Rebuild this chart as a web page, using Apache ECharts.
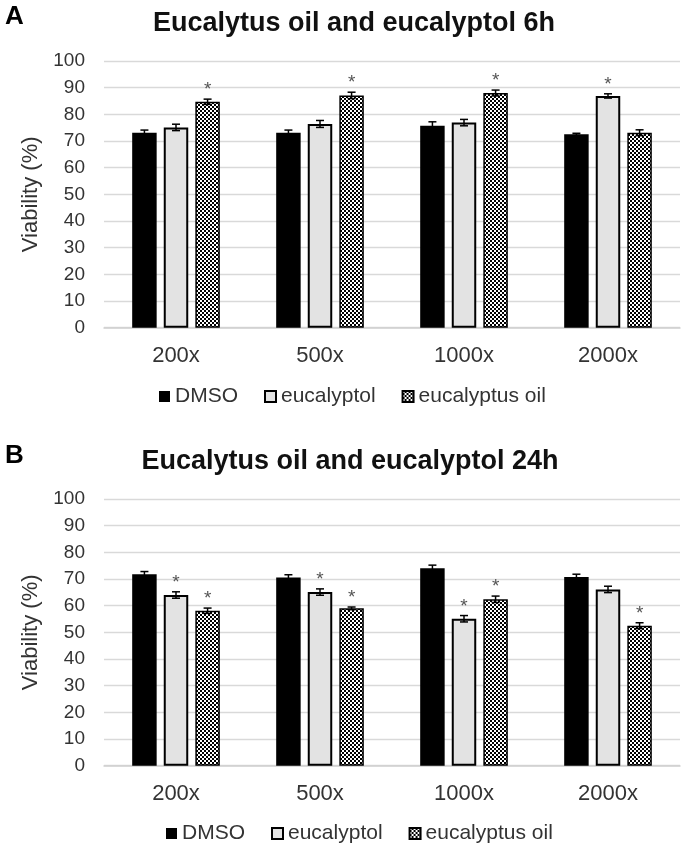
<!DOCTYPE html>
<html>
<head>
<meta charset="utf-8">
<script src="https://cdn.jsdelivr.net/npm/echarts@6/dist/echarts.min.js"></script>
<style>
html,body{margin:0;padding:0;background:#fff;}
#chart{width:685px;height:852px;}
</style>
</head>
<body>
<div id="chart"></div>
<script>
// ---- data ----
const categories = ['200x', '500x', '1000x', '2000x'];
const seriesNames = ['DMSO', 'eucalyptol', 'eucalyptus oil'];
const yTicks = [0, 10, 20, 30, 40, 50, 60, 70, 80, 90, 100];

// 6h
const dmso6 = [73.1, 73.1, 75.7, 72.5];
const dmso6Err = [1.0, 1.0, 1.5, 0.4];
const eucalyptol6 = [75.1, 76.4, 76.9, 86.9];
const eucalyptol6Err = [1.2, 1.3, 1.2, 0.8];
const oil6 = [84.7, 87.1, 88.0, 73.1];
const oil6Err = [1.0, 1.2, 1.1, 1.1];
const dmso6Sig = [false, false, false, false];
const eucalyptol6Sig = [false, false, false, true];
const oil6Sig = [true, true, true, false];

// 24h
const dmso24 = [71.8, 70.6, 74.0, 70.8];
const dmso24Err = [1.0, 1.0, 1.2, 1.0];
const eucalyptol24 = [64.0, 65.1, 55.1, 66.1];
const eucalyptol24Err = [1.2, 1.2, 1.2, 1.2];
const oil24 = [58.1, 59.0, 62.4, 52.5];
const oil24Err = [1.0, 0.5, 1.2, 1.1];
const dmso24Sig = [false, false, false, false];
const eucalyptol24Sig = [true, true, true, false];
const oil24Sig = [true, true, true, true];

const title6 = 'Eucalytus oil and eucalyptol 6h';
const title24 = 'Eucalytus oil and eucalyptol 24h';
const yName = 'Viability (%)';

// ---- pattern ----
function makeChecker() {
  const c = document.createElement('canvas');
  c.width = 4; c.height = 4;
  const ctx = c.getContext('2d');
  ctx.fillStyle = '#000';
  ctx.fillRect(0, 0, 4, 4);
  ctx.fillStyle = '#fff';
  ctx.fillRect(0, 0, 2, 2);
  ctx.fillRect(2, 2, 2, 2);
  return c;
}
const checker = makeChecker();

const FONT = "'Liberation Sans', Arial, sans-serif";
const BAR_W = 0.17;
const BAR_GAP = 0.29;

const styles = [
  { color: '#000000', borderColor: '#000000', borderWidth: 0 },
  { color: '#e3e3e3', borderColor: '#000000', borderWidth: 2 },
  { color: { image: checker, repeat: 'repeat' }, borderColor: '#000000', borderWidth: 1.5 }
];

const grids = [
  { left: 104, right: 5, top: 61, height: 266.7 },
  { left: 104, right: 5, top: 499, height: 266.7 }
];

function buildErr(vals, errs, sigs) {
  const out = [];
  vals.forEach((set, s) => {
    set.forEach((v, i) => {
      out.push([i, v, errs[s][i], sigs[s][i] ? 1 : 0, s]);
    });
  });
  return out;
}

function renderErr(params, api) {
  const cat = api.value(0);
  const v = api.value(1);
  const e = api.value(2);
  const sig = api.value(3);
  const s = api.value(4);
  const band = api.size([1, 0])[0];
  const bw = band * BAR_W;
  const off = (s - 1) * (bw + bw * BAR_GAP);
  const top = api.coord([cat, v + e]);
  const bot = api.coord([cat, v - e]);
  const x = top[0] + off;
  const cap = 4;
  const st = { stroke: '#000', lineWidth: 1.5 };
  const children = [
    { type: 'line', shape: { x1: x, y1: top[1], x2: x, y2: bot[1] }, style: st },
    { type: 'line', shape: { x1: x - cap, y1: top[1], x2: x + cap, y2: top[1] }, style: st },
    { type: 'line', shape: { x1: x - cap, y1: bot[1], x2: x + cap, y2: bot[1] }, style: st }
  ];
  if (sig) {
    children.push({
      type: 'text',
      style: {
        x: x, y: top[1] - 9, text: '*',
        font: '19px ' + FONT, fill: '#555',
        textAlign: 'center', textVerticalAlign: 'middle'
      }
    });
  }
  return { type: 'group', children: children };
}

const sets = [
  { vals: [dmso6, eucalyptol6, oil6], errs: [dmso6Err, eucalyptol6Err, oil6Err], sigs: [dmso6Sig, eucalyptol6Sig, oil6Sig] },
  { vals: [dmso24, eucalyptol24, oil24], errs: [dmso24Err, eucalyptol24Err, oil24Err], sigs: [dmso24Sig, eucalyptol24Sig, oil24Sig] }
];

const xAxes = [], yAxes = [], series = [];
grids.forEach((g, gi) => {
  xAxes.push({
    type: 'category', gridIndex: gi, data: categories,
    axisLine: { lineStyle: { color: '#d0d0d0', width: 1.5 } },
    axisTick: { show: false },
    axisLabel: { fontFamily: FONT, fontSize: 22, color: '#333', margin: 17 }
  });
  yAxes.push({
    type: 'value', gridIndex: gi, min: yTicks[0], max: yTicks[yTicks.length - 1], interval: 10,
    name: yName, nameLocation: 'middle', nameGap: 56,
    nameTextStyle: { fontFamily: FONT, fontSize: 22, color: '#333' },
    axisLine: { show: false }, axisTick: { show: false },
    axisLabel: { fontFamily: FONT, fontSize: 19, color: '#333', margin: 19 },
    splitLine: { lineStyle: { color: '#d9d9d9', width: 1.3 } }
  });
  sets[gi].vals.forEach((vals, s) => {
    series.push({
      type: 'bar', name: seriesNames[s], xAxisIndex: gi, yAxisIndex: gi,
      data: vals, barWidth: (BAR_W * 100) + '%', barGap: (BAR_GAP * 100) + '%',
      itemStyle: styles[s], z: 2, silent: true
    });
  });
  series.push({
    type: 'custom', xAxisIndex: gi, yAxisIndex: gi,
    data: buildErr(sets[gi].vals, sets[gi].errs, sets[gi].sigs),
    renderItem: renderErr, z: 5, silent: true
  });
});

const legendBase = {
  data: seriesNames, itemWidth: 11, itemHeight: 11, itemGap: 26,
  textStyle: { fontFamily: FONT, fontSize: 21, color: '#333' },
  padding: 0, selectedMode: false, icon: 'rect'
};

const chart = echarts.init(document.getElementById('chart'), null, { renderer: 'canvas' });
chart.setOption({
  animation: false,
  backgroundColor: '#fff',
  grid: grids,
  xAxis: xAxes,
  yAxis: yAxes,
  legend: [
    Object.assign({}, legendBase, { left: 159, top: 386 }),
    Object.assign({}, legendBase, { left: 166, top: 823 })
  ],
  graphic: [
    { type: 'text', left: 5, top: 4, style: { text: 'A', font: 'bold 26px ' + FONT, fill: '#000' } },
    { type: 'text', left: 5, top: 443, style: { text: 'B', font: 'bold 26px ' + FONT, fill: '#000' } },
    { type: 'text', x: 354, y: 24, style: { text: title6, font: 'bold 27px ' + FONT, fill: '#111', textAlign: 'center', textVerticalAlign: 'middle' } },
    { type: 'text', x: 350, y: 462, style: { text: title24, font: 'bold 27px ' + FONT, fill: '#111', textAlign: 'center', textVerticalAlign: 'middle' } }
  ],
  series: series
});
</script>
</body>
</html>
